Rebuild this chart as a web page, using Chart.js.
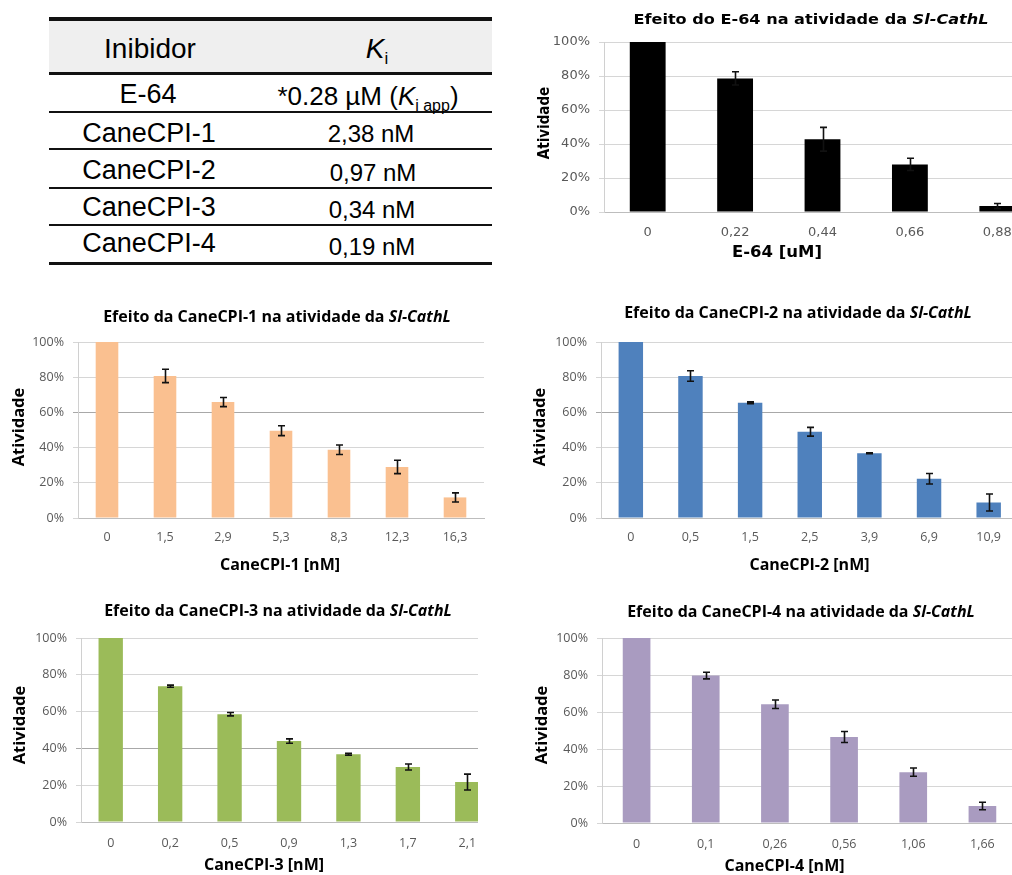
<!DOCTYPE html>
<html>
<head>
<meta charset="utf-8">
<script src="https://cdn.jsdelivr.net/npm/chart.js@4.4.0/dist/chart.umd.min.js"></script>
<style>
  html, body { margin: 0; padding: 0; background: #fff; }
  body { width: 1012px; height: 875px; position: relative; overflow: hidden; }
  .box { position: absolute; overflow: hidden; }
  .box canvas { position: absolute; left: 0; top: 0; }
  .tbl { font-family: "Liberation Sans", Arial, sans-serif; color: #000; }
  .rule { position: absolute; left: 49px; width: 443px; background: #111; }
  .t { position: absolute; line-height: 1; white-space: nowrap; transform: translateX(-50%); }
  .sub { position: relative; top: 6px; }
</style>
</head>
<body>

<div class="tbl">
  <div style="position:absolute;left:49px;top:20px;width:443px;height:52px;background:#efefef"></div>
  <div class="rule" style="top:17px;height:3.5px"></div>
  <div class="rule" style="top:72px;height:3px"></div>
  <div class="rule" style="top:111px;height:2px"></div>
  <div class="rule" style="top:148px;height:2px"></div>
  <div class="rule" style="top:186.5px;height:2px"></div>
  <div class="rule" style="top:224px;height:2px"></div>
  <div class="rule" style="top:261.5px;height:3.5px"></div>

  <span class="t" style="left:150px;top:34.6px;font-size:28px">Inibidor</span>
  <span class="t" style="left:377px;top:34.6px;font-size:28px"><i>K</i><span class="sub" style="font-size:17px">i</span></span>

  <span class="t" style="left:148px;top:81.4px;font-size:27px">E-64</span>
  <span class="t" style="left:368px;top:83px;font-size:26px">*0.28 µM (<i>K</i><span class="sub" style="font-size:16px">i app</span>)</span>

  <span class="t" style="left:149px;top:119.8px;font-size:27px">CaneCPI-1</span>
  <span class="t" style="left:371px;top:122.4px;font-size:24px">2,38 nM</span>

  <span class="t" style="left:149px;top:157.1px;font-size:27px">CaneCPI-2</span>
  <span class="t" style="left:373px;top:161px;font-size:24px">0,97 nM</span>

  <span class="t" style="left:149px;top:193.8px;font-size:27px">CaneCPI-3</span>
  <span class="t" style="left:372px;top:198px;font-size:24px">0,34 nM</span>

  <span class="t" style="left:149px;top:230.4px;font-size:27px">CaneCPI-4</span>
  <span class="t" style="left:372px;top:234.7px;font-size:24px">0,19 nM</span>
</div>

<div class="box" style="left:500px;top:0px;width:512px;height:270px"><canvas id="cE64" width="560" height="270"></canvas></div>
<div class="box" style="left:0px;top:290px;width:500px;height:290px"><canvas id="c1" width="500" height="290"></canvas></div>
<div class="box" style="left:500px;top:290px;width:512px;height:290px"><canvas id="c2" width="540" height="290"></canvas></div>
<div class="box" style="left:0px;top:590px;width:478px;height:285px"><canvas id="c3" width="520" height="285"></canvas></div>
<div class="box" style="left:500px;top:590px;width:512px;height:285px"><canvas id="c4" width="540" height="285"></canvas></div>

<script>
// values, activity in %
const yTickLabels = ['0%', '20%', '40%', '60%', '80%', '100%'];

const e64Labels = ['0', '0,22', '0,44', '0,66', '0,88'];
const e64Values = [100, 78.6, 42.8, 28, 3.5];
const e64Errors = [0, 3.9, 7, 3.6, 1.5];

const cpi1Labels = ['0', '1,5', '2,9', '5,3', '8,3', '12,3', '16,3'];
const cpi1Values = [100, 80.7, 65.9, 49.6, 38.8, 29, 11.7];
const cpi1Errors = [0, 3.8, 2.6, 2.8, 2.7, 3.8, 2.6];

const cpi2Labels = ['0', '0,5', '1,5', '2,5', '3,9', '6,9', '10,9'];
const cpi2Values = [100, 80.7, 65.5, 49, 36.8, 22.3, 8.8];
const cpi2Errors = [0, 3, 0.5, 2.5, 0.3, 3, 4.8];

const cpi3Labels = ['0', '0,2', '0,5', '0,9', '1,3', '1,7', '2,1'];
const cpi3Values = [100, 73.8, 58.6, 44, 36.8, 29.9, 21.7];
const cpi3Errors = [0, 0.6, 0.9, 1.2, 0.5, 1.6, 4.3];

const cpi4Labels = ['0', '0,1', '0,26', '0,56', '1,06', '1,66'];
const cpi4Values = [100, 79.7, 64.2, 46.5, 27.5, 9.2];
const cpi4Errors = [0, 1.8, 2.3, 3, 2.2, 2];

const errorBarPlugin = {
  id: 'errorBars',
  afterDatasetsDraw(chart, args, opts) {
    const errs = opts.errors;
    if (!errs) return;
    const meta = chart.getDatasetMeta(0);
    const values = chart.data.datasets[0].data;
    const y = chart.scales.y;
    const ctx = chart.ctx;
    ctx.save();
    ctx.strokeStyle = opts.color;
    ctx.lineWidth = opts.lineWidth;
    meta.data.forEach((bar, i) => {
      const e = errs[i];
      if (!e) return;
      const x = Math.round(bar.x) + 0.5;
      const top = y.getPixelForValue(values[i] + e);
      const bot = y.getPixelForValue(values[i] - e);
      ctx.beginPath();
      ctx.moveTo(x, top); ctx.lineTo(x, bot);
      ctx.moveTo(x - opts.cap, top); ctx.lineTo(x + opts.cap, top);
      ctx.moveTo(x - opts.cap, bot); ctx.lineTo(x + opts.cap, bot);
      ctx.stroke();
    });
    ctx.restore();
  }
};

// titles with mixed upright / italic runs
const panelTextPlugin = {
  id: 'panelText',
  afterDraw(chart, args, opts) {
    const ctx = chart.ctx;
    (opts.items || []).forEach((item) => {
      ctx.save();
      ctx.translate(item.x, item.y);
      if (item.rotate) ctx.rotate(item.rotate);
      if (item.sx) ctx.scale(item.sx, 1);
      ctx.fillStyle = item.color || '#000';
      ctx.textBaseline = 'middle';
      ctx.textAlign = 'left';
      let total = 0;
      const widths = item.runs.map((r) => {
        ctx.font = r.font;
        const w = ctx.measureText(r.text).width;
        total += w;
        return w;
      });
      let x = -total / 2;
      item.runs.forEach((r, i) => {
        ctx.font = r.font;
        ctx.fillText(r.text, x, 0);
        x += widths[i];
      });
      ctx.restore();
    });
  }
};

function titleRuns(text, face, size) {
  return [
    { text: text, font: `bold ${size}px ${face}` },
    { text: 'Sl-CathL', font: `italic bold ${size}px ${face}` },
  ];
}

function buildChart(id, p) {
  return new Chart(document.getElementById(id), {
    type: 'bar',
    data: {
      labels: p.labels,
      datasets: [{
        data: p.values,
        backgroundColor: p.color,
        borderWidth: 0,
        categoryPercentage: 1,
        barPercentage: p.barPct,
      }],
    },
    plugins: [errorBarPlugin, panelTextPlugin],
    options: {
      responsive: false,
      animation: false,
      layout: { padding: { left: 0, top: p.top, right: p.padRight, bottom: 0 } },
      plugins: {
        legend: { display: false },
        tooltip: { enabled: false },
        errorBars: { errors: p.errors, color: '#111', lineWidth: 1.6, cap: 3.5 },
        panelText: { items: p.texts },
      },
      scales: {
        x: {
          grid: { display: false, drawTicks: false },
          border: { color: '#bdbdbd', width: 1 },
          ticks: { font: p.tickFont, color: '#595959', padding: p.xPad, maxRotation: 0, autoSkip: false },
          afterFit(scale) { scale.height = p.xHeight; },
        },
        y: {
          min: 0,
          max: 100,
          grid: {
            color: (c) => (c.tick && c.tick.value === p.darkLine ? '#a8a8a8' : '#d6d6d6'),
            tickLength: 5,
          },
          border: { color: '#d0d0d0', width: 1 },
          ticks: {
            stepSize: 20,
            font: p.tickFont,
            color: '#595959',
            padding: 9,
            callback: (v, i) => yTickLabels[i],
          },
          afterFit(scale) { scale.width = p.left; },
        },
      },
    },
  });
}

const SANS = '"Open Sans", sans-serif';
const DEJA = '"DejaVu Sans", sans-serif';

buildChart('cE64', {
  labels: e64Labels, values: e64Values, errors: e64Errors, color: '#000', barPct: 0.41,
  left: 104, top: 42, padRight: 19, xHeight: 58, xPad: 13, darkLine: null,
  tickFont: { family: DEJA, size: 13 },
  texts: [
    { x: 311, y: 20, sx: 1.15, runs: [{ text: 'Efeito do E-64 na atividade da ', font: `bold 14px ${DEJA}` }, { text: 'Sl-CathL', font: `italic bold 14px ${DEJA}` }] },
    { x: 45, y: 123, rotate: -Math.PI / 2, runs: [{ text: 'Atividade', font: 'bold 15px "Liberation Sans Narrow", "DejaVu Sans Condensed", sans-serif' }] },
    { x: 277, y: 253, sx: 1.1, runs: [{ text: 'E-64 [uM]', font: `bold 15px ${DEJA}` }] },
  ],
});

buildChart('c1', {
  labels: cpi1Labels, values: cpi1Values, errors: cpi1Errors, color: '#fac090', barPct: 0.39,
  left: 78, top: 52, padRight: 16, xHeight: 62, xPad: 12, darkLine: 60,
  tickFont: { family: SANS, size: 12.5 },
  texts: [
    { x: 277, y: 27, runs: titleRuns('Efeito da CaneCPI-1 na atividade da ', SANS, 16) },
    { x: 19, y: 137, rotate: -Math.PI / 2, runs: [{ text: 'Atividade', font: `bold 16.5px ${SANS}` }] },
    { x: 280, y: 275, runs: [{ text: 'CaneCPI-1 [nM]', font: `bold 16px ${SANS}` }] },
  ],
});

buildChart('c2', {
  labels: cpi2Labels, values: cpi2Values, errors: cpi2Errors, color: '#4f81bd', barPct: 0.41,
  left: 101, top: 52, padRight: 21.5, xHeight: 62, xPad: 12, darkLine: 60,
  tickFont: { family: SANS, size: 12.5 },
  texts: [
    { x: 298, y: 23, runs: titleRuns('Efeito da CaneCPI-2 na atividade da ', SANS, 16) },
    { x: 40, y: 137, rotate: -Math.PI / 2, runs: [{ text: 'Atividade', font: `bold 16.5px ${SANS}` }] },
    { x: 309.5, y: 275, runs: [{ text: 'CaneCPI-2 [nM]', font: `bold 16px ${SANS}` }] },
  ],
});

buildChart('c3', {
  labels: cpi3Labels, values: cpi3Values, errors: cpi3Errors, color: '#9bbb59', barPct: 0.41,
  left: 81, top: 48, padRight: 23, xHeight: 53, xPad: 14, darkLine: 40,
  tickFont: { family: SANS, size: 12.5 },
  texts: [
    { x: 278, y: 21, runs: titleRuns('Efeito da CaneCPI-3 na atividade da ', SANS, 16) },
    { x: 20, y: 135, rotate: -Math.PI / 2, runs: [{ text: 'Atividade', font: `bold 16.5px ${SANS}` }] },
    { x: 264, y: 275, runs: [{ text: 'CaneCPI-3 [nM]', font: `bold 16px ${SANS}` }] },
  ],
});

buildChart('c4', {
  labels: cpi4Labels, values: cpi4Values, errors: cpi4Errors, color: '#a99bc0', barPct: 0.4,
  left: 102, top: 48, padRight: 23, xHeight: 52, xPad: 14, darkLine: null,
  tickFont: { family: SANS, size: 12.5 },
  texts: [
    { x: 301, y: 22, runs: titleRuns('Efeito da CaneCPI-4 na atividade da ', SANS, 16) },
    { x: 42, y: 135, rotate: -Math.PI / 2, runs: [{ text: 'Atividade', font: `bold 16.5px ${SANS}` }] },
    { x: 284.5, y: 276, runs: [{ text: 'CaneCPI-4 [nM]', font: `bold 16px ${SANS}` }] },
  ],
});
</script>
</body>
</html>
